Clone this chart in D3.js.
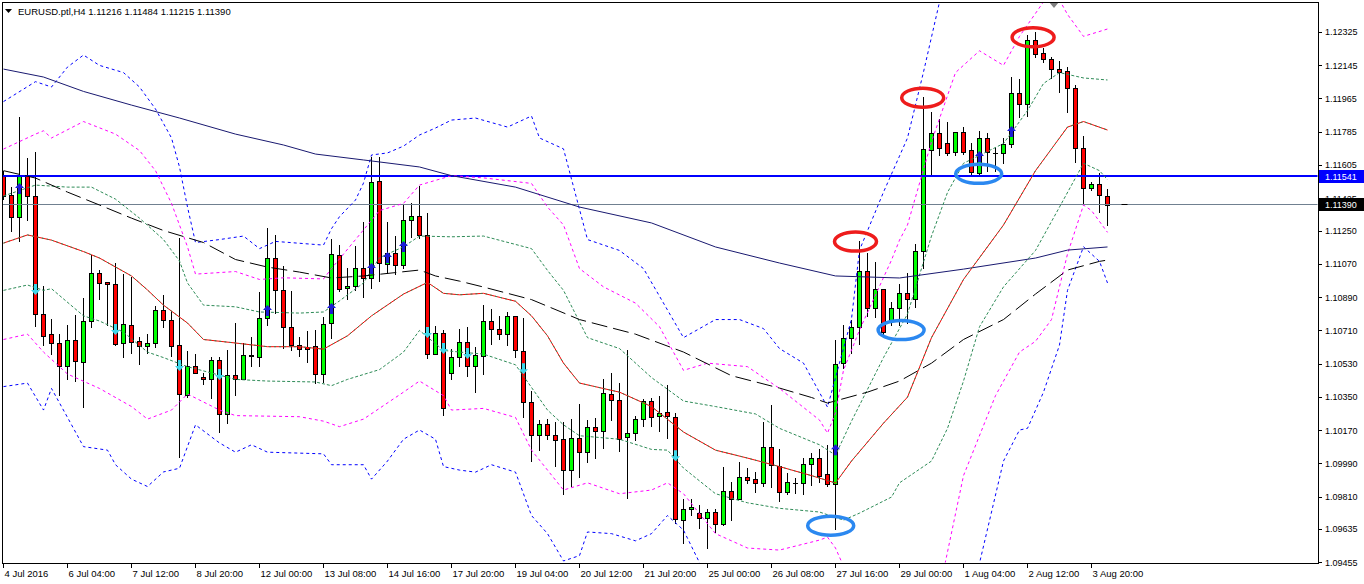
<!DOCTYPE html>
<html>
<head>
<meta charset="utf-8">
<title>EURUSD H4</title>
<script src="https://cdn.jsdelivr.net/npm/d3@7"></script>
<style>
  body { margin: 0; background: #fff; }
  svg text { font-family: "Liberation Sans", Arial, sans-serif; fill: #000; }
</style>
</head>
<body>
<svg id="canvas" width="1364" height="584"></svg>
<script>

// H4 candles, index 0 = first visible bar
var openP = [1.11547,1.11442,1.11321,1.11545,1.11437,1.10798,1.10689,1.10639,1.10518,1.10657,
  1.10536,1.10758,1.11018,1.10971,1.10960,1.10639,1.10736,1.10651,1.10626,1.10639,
  1.10818,1.10764,1.10628,1.10359,1.10518,1.10457,1.10444,1.10549,1.10255,1.10466,
  1.10447,1.10572,1.10566,1.10774,1.11099,1.10926,1.10729,1.10628,1.10617,1.10623,
  1.10471,1.10747,1.11116,1.10937,1.10949,1.11045,1.10991,1.11518,1.11068,1.11130,
  1.11061,1.11305,1.11327,1.11224,1.10583,1.10693,1.10477,1.10563,1.10644,1.10518,
  1.10572,1.10760,1.10715,1.10688,1.10785,1.10596,1.10320,1.10141,1.10202,1.10141,
  1.10119,1.09951,1.10125,1.10052,1.10184,1.10166,1.10365,1.10330,1.10130,1.10155,
  1.10228,1.10327,1.10245,1.10265,1.10242,1.09682,1.09742,1.09718,1.09691,1.09727,
  1.09659,1.09841,1.09794,1.09913,1.09903,1.09881,1.10079,1.09976,1.09832,1.09883,
  1.09881,1.09987,1.10016,1.09930,1.09879,1.10531,1.10669,1.10729,1.11029,1.10829,
  1.10935,1.10765,1.10829,1.10910,1.10877,1.11141,1.11686,1.11776,1.11722,1.11673,
  1.11782,1.11686,1.11560,1.11749,1.11670,1.11668,1.11717,1.11993,1.11933,1.12281,
  1.12209,1.12177,1.12123,1.12114,1.12020,1.11695,1.11482,1.11500,1.11438];
var highP = [1.11572,1.11487,1.11866,1.11641,1.11677,1.10949,1.10771,1.10689,1.10738,1.10792,
  1.10883,1.11117,1.11036,1.10971,1.11072,1.11014,1.11000,1.10675,1.10689,1.10843,
  1.10901,1.10814,1.11208,1.10597,1.10580,1.10477,1.10563,1.10566,1.10603,1.10747,
  1.10639,1.10672,1.10918,1.11263,1.11225,1.11058,1.10922,1.10672,1.10707,1.10713,
  1.10780,1.11204,1.11171,1.11045,1.11166,1.11297,1.11650,1.11650,1.11294,1.11220,
  1.11392,1.11397,1.11491,1.11343,1.10733,1.10711,1.10607,1.10717,1.10726,1.10617,
  1.10846,1.10825,1.10785,1.10809,1.10785,1.10776,1.10382,1.10224,1.10228,1.10211,
  1.10215,1.10229,1.10312,1.10224,1.10233,1.10444,1.10477,1.10422,1.10603,1.10245,
  1.10339,1.10345,1.10354,1.10413,1.10260,1.09794,1.09794,1.09763,1.09742,1.09740,
  1.09971,1.09890,1.09995,1.09965,1.09944,1.10215,1.10303,1.10068,1.09935,1.09911,
  1.10016,1.10043,1.10065,1.10088,1.10657,1.10736,1.10765,1.11195,1.11126,1.11081,
  1.10935,1.10864,1.10960,1.11018,1.11177,1.11971,1.11893,1.11852,1.11839,1.11782,
  1.11812,1.11725,1.11789,1.11776,1.11695,1.11749,1.12079,1.12069,1.12309,1.12326,
  1.12237,1.12188,1.12169,1.12137,1.12038,1.11762,1.11514,1.11560,1.11473];
var lowP = [1.11420,1.11249,1.11195,1.11307,1.10733,1.10630,1.10581,1.10359,1.10444,1.10437,
  1.10292,1.10726,1.10880,1.10738,1.10628,1.10566,1.10588,1.10527,1.10585,1.10621,
  1.10726,1.10572,1.10025,1.10350,1.10477,1.10419,1.10341,1.10160,1.10209,1.10359,
  1.10447,1.10518,1.10518,1.10736,1.10805,1.10614,1.10603,1.10570,1.10538,1.10422,
  1.10431,1.10669,1.10924,1.10877,1.10928,1.10888,1.10937,1.10978,1.11018,1.11014,
  1.11045,1.11216,1.11208,1.10561,1.10580,1.10251,1.10444,1.10516,1.10464,1.10377,
  1.10474,1.10637,1.10662,1.10631,1.10566,1.10242,1.10003,1.10061,1.10121,1.09976,
  1.09821,1.09868,1.09917,1.09995,1.10020,1.10074,1.10225,1.10054,1.09800,1.10115,
  1.10193,1.10193,1.10166,1.10125,1.09668,1.09559,1.09709,1.09637,1.09529,1.09616,
  1.09655,1.09682,1.09794,1.09884,1.09836,1.09868,1.09863,1.09785,1.09823,1.09830,
  1.09821,1.09872,1.09890,1.09868,1.09632,1.10507,1.10588,1.10635,1.10789,1.10783,
  1.10684,1.10738,1.10738,1.10747,1.10837,1.11045,1.11550,1.11659,1.11659,1.11659,
  1.11662,1.11550,1.11556,1.11574,1.11574,1.11614,1.11704,1.11866,1.11870,1.12188,
  1.12164,1.12074,1.12001,1.11893,1.11622,1.11397,1.11469,1.11352,1.11280];
var closeP = [1.11437,1.11321,1.11545,1.11437,1.10798,1.10680,1.10642,1.10518,1.10657,1.10542,
  1.10760,1.11018,1.10967,1.10958,1.10634,1.10742,1.10644,1.10626,1.10639,1.10818,
  1.10764,1.10626,1.10363,1.10518,1.10477,1.10444,1.10549,1.10255,1.10467,1.10444,
  1.10574,1.10574,1.10774,1.11099,1.10926,1.10729,1.10628,1.10608,1.10608,1.10471,
  1.10744,1.11121,1.10933,1.10949,1.11045,1.10991,1.11512,1.11072,1.11130,1.11061,
  1.11305,1.11327,1.11226,1.10583,1.10693,1.10287,1.10563,1.10644,1.10518,1.10574,
  1.10760,1.10715,1.10688,1.10785,1.10601,1.10320,1.10141,1.10202,1.10141,1.10117,
  1.09955,1.10125,1.10052,1.10184,1.10166,1.10370,1.10330,1.10122,1.10155,1.10228,
  1.10327,1.10242,1.10260,1.10245,1.09686,1.09740,1.09754,1.09691,1.09727,1.09662,
  1.09841,1.09794,1.09913,1.09899,1.09881,1.10079,1.09980,1.09832,1.09886,1.09883,
  1.09987,1.10016,1.09922,1.09879,1.10527,1.10669,1.10729,1.11029,1.10829,1.10935,
  1.10702,1.10829,1.10910,1.10877,1.11141,1.11690,1.11776,1.11695,1.11668,1.11782,
  1.11673,1.11568,1.11749,1.11673,1.11670,1.11717,1.11993,1.11933,1.12281,1.12206,
  1.12177,1.12123,1.12110,1.12020,1.11695,1.11478,1.11500,1.11442,1.11390];

// time axis labels, one every 8 bars
var timeLabels = ['4 Jul 2016','6 Jul 04:00','7 Jul 12:00','8 Jul 20:00','12 Jul 00:00','13 Jul 08:00',
  '14 Jul 16:00','17 Jul 20:00','19 Jul 04:00','20 Jul 12:00','21 Jul 20:00','25 Jul 00:00',
  '26 Jul 08:00','27 Jul 16:00','29 Jul 00:00','1 Aug 04:00','2 Aug 12:00','3 Aug 20:00'];
var priceTicks = [1.12325,1.12145,1.11965,1.11785,1.11605,1.11425,1.11250,1.11070,1.10890,
  1.10710,1.10530,1.10350,1.10170,1.09990,1.09810,1.09635,1.09455];

var titleText = 'EURUSD.ptl,H4  1.11216 1.11484 1.11215 1.11390';
var levelPrice = 1.11541;
var lastPrice = 1.11390;

// indicator lines, [bar index, price]
var maSlow = [[0,1.12124],[5,1.12081],[10,1.12003],[16,1.11929],[22,1.11859],[29,1.11772],[35,1.11713],
  [39,1.11664],[45,1.11632],[52,1.11594],[56,1.11547],[64,1.11485],[72,1.11377],[81,1.11291],[89,1.11161],
  [97,1.11074],[104,1.11004],[112,1.10993],[120,1.11041],[129,1.11101],[133,1.11144],[138,1.11161]];
var maMid = [[0,1.11574],[4,1.11534],[8,1.11458],[12,1.11388],[16,1.11317],[20,1.11250],[25,1.11185],
  [29,1.11093],[33,1.11052],[37,1.11025],[41,1.10993],[45,1.11004],[52,1.11036],[54,1.11004],[57,1.10976],
  [60,1.10944],[66,1.10876],[72,1.10768],[79,1.10689],[85,1.10592],[91,1.10464],[97,1.10397],[101,1.10346],
  [103,1.10316],[108,1.10375],[112,1.10435],[116,1.10532],[120,1.10660],[125,1.10768],[129,1.10906],
  [133,1.11036],[137,1.11083],[138,1.11090]];
var maFast = [[0,1.11182],[3,1.11226],[6,1.11198],[10,1.11136],[12,1.11101],[16,1.11004],[18,1.10928],
  [20,1.10846],[23,1.10749],[25,1.10660],[29,1.10641],[33,1.10621],[37,1.10621],[40,1.10608],[43,1.10680],
  [46,1.10788],[50,1.10906],[53,1.10969],[55,1.10910],[57,1.10902],[60,1.10910],[64,1.10867],[66,1.10788],
  [68,1.10680],[70,1.10532],[72,1.10424],[77,1.10375],[81,1.10297],[85,1.10159],[89,1.10061],[93,1.10018],
  [97,1.09972],[101,1.09923],[104,1.09883],[106,1.10002],[110,1.10207],[113,1.10348],[116,1.10670],
  [120,1.10985],[125,1.11280],[129,1.11574],[133,1.11810],[135,1.11840],[138,1.11794]];
var bandUp1 = [[0,1.11437],[4,1.11496],[8,1.11485],[11,1.11485],[14,1.11420],[17,1.11317],[20,1.11201],
  [22,1.11085],[23,1.10966],[25,1.10846],[29,1.10837],[32,1.10809],[37,1.10803],[40,1.10809],[42,1.10869],
  [45,1.10966],[47,1.11103],[50,1.11162],[52,1.11220],[56,1.11216],[60,1.11220],[66,1.11152],[68,1.11034],
  [70,1.10926],[73,1.10670],[77,1.10611],[81,1.10454],[85,1.10327],[89,1.10297],[94,1.10257],[97,1.10179],
  [102,1.10090],[104,1.10034],[106,1.10218],[110,1.10562],[113,1.10798],[116,1.11220],[118,1.11456],
  [120,1.11614],[125,1.11721],[128,1.11899],[130,1.12046],[132,1.12105],[135,1.12076],[138,1.12065]];
var bandLo1 = [[0,1.10926],[3,1.10955],[5,1.10926],[6,1.10935],[10,1.10788],[12,1.10760],[15,1.10700],
  [18,1.10592],[20,1.10562],[23,1.10513],[29,1.10444],[33,1.10435],[39,1.10430],[41,1.10410],[43,1.10444],
  [47,1.10497],[50,1.10592],[52,1.10709],[55,1.10601],[57,1.10592],[60,1.10581],[64,1.10523],[68,1.10278],
  [70,1.10198],[72,1.10139],[77,1.10120],[81,1.10065],[83,1.10061],[85,1.09964],[89,1.09825],[93,1.09776],
  [97,1.09746],[102,1.09726],[105,1.09682],[107,1.09720],[111,1.09807],[112,1.09884],[116,1.10002],
  [118,1.10179],[120,1.10435],[122,1.10729],[125,1.10945],[129,1.11142],[132,1.11377],[135,1.11614],
  [137,1.11574],[138,1.11525]];
var bandUp2 = [[0,1.11691],[4,1.11772],[5,1.11790],[6,1.11751],[10,1.11840],[14,1.11772],[17,1.11683],
  [19,1.11574],[21,1.11397],[23,1.11162],[24,1.11014],[29,1.11028],[32,1.10985],[35,1.10994],[40,1.10988],
  [41,1.11044],[44,1.11201],[47,1.11358],[50,1.11397],[52,1.11496],[56,1.11547],[60,1.11535],[66,1.11505],
  [68,1.11377],[70,1.11280],[72,1.11044],[75,1.10945],[79,1.10857],[82,1.10729],[85,1.10493],[88,1.10532],
  [93,1.10513],[97,1.10395],[102,1.10224],[103,1.10153],[104,1.10262],[105,1.10494],[107,1.10711],
  [111,1.11090],[112,1.11198],[113,1.11280],[116,1.11731],[119,1.12105],[122,1.12223],[125,1.12144],
  [127,1.12301],[130,1.12488],[132,1.12498],[133,1.12420],[135,1.12301],[138,1.12341]];
var bandLo2 = [[0,1.10660],[3,1.10689],[5,1.10592],[8,1.10473],[12,1.10395],[16,1.10297],[18,1.10229],
  [21,1.10278],[23,1.10365],[27,1.10278],[29,1.10248],[37,1.10242],[40,1.10218],[42,1.10188],[45,1.10229],
  [50,1.10375],[52,1.10435],[55,1.10356],[56,1.10278],[60,1.10287],[64,1.10238],[66,1.10061],[70,1.09845],
  [73,1.09884],[77,1.09825],[81,1.09845],[83,1.09884],[85,1.09825],[89,1.09609],[93,1.09531],[97,1.09520],
  [102,1.09574],[103,1.09590],[104,1.09531],[105,1.09433],[106,1.09303],[117,1.09303],[120,1.09923],
  [124,1.10356],[127,1.10592],[129,1.10650],[131,1.10768],[133,1.11123],[135,1.11388],[136,1.11358],
  [138,1.11240]];
var bandUp3 = [[0,1.11948],[4,1.12056],[6,1.12027],[8,1.12135],[10,1.12200],[12,1.12144],[15,1.12105],
  [17,1.12027],[19,1.11908],[21,1.11751],[22,1.11594],[23,1.11377],[24,1.11185],[27,1.11201],[30,1.11220],
  [32,1.11152],[34,1.11191],[40,1.11171],[41,1.11260],[42,1.11325],[44,1.11415],[45,1.11507],[46,1.11659],
  [48,1.11670],[50,1.11707],[52,1.11767],[54,1.11805],[56,1.11848],[59,1.11859],[63,1.11810],[66,1.11870],
  [67,1.11751],[70,1.11692],[73,1.11201],[77,1.11142],[80,1.11044],[85,1.10670],[89,1.10768],[92,1.10768],
  [95,1.10719],[97,1.10611],[100,1.10532],[103,1.10294],[106,1.10771],[107,1.11144],[110,1.11458],
  [112,1.11653],[113,1.11751],[115,1.12108],[117,1.12487],[118,1.12715],[138,1.12660]];
var bandLo3 = [[0,1.10405],[3,1.10424],[5,1.10278],[6,1.10395],[8,1.10238],[10,1.10080],[13,1.10061],
  [14,1.09982],[16,1.09904],[18,1.09864],[20,1.09943],[22,1.09963],[24,1.10198],[27,1.10100],[29,1.10050],
  [31,1.10090],[33,1.10050],[40,1.10041],[41,1.09982],[45,1.09982],[46,1.09904],[48,1.10002],[50,1.10120],
  [52,1.10170],[54,1.10120],[55,1.09972],[57,1.09953],[59,1.09942],[61,1.09982],[64,1.09942],[66,1.09707],
  [68,1.09609],[70,1.09461],[72,1.09490],[73,1.09618],[76,1.09609],[79,1.09570],[81,1.09609],[83,1.09707],
  [85,1.09628],[87,1.09452],[90,1.09249],[115,1.09032],[120,1.09249],[122,1.09449],[125,1.10002],
  [127,1.10170],[128,1.10179],[130,1.10375],[132,1.10630],[133,1.10926],[135,1.11162],[137,1.11083],
  [138,1.10966]];

// signal arrows
var upIdx = [2,33,41,46,48,50,104,122,126];
var upPrice = [1.11475,1.10814,1.10825,1.11041,1.11101,1.11161,1.10061,1.11648,1.11783];
var downIdx = [4,14,22,27,53,55,58,65,84];
var downPrice = [1.10933,1.10717,1.10522,1.10473,1.10700,1.10614,1.10587,1.10505,1.10034];

// hand drawn ellipses on swing highs / lows
var highMarkIdx = [106.5,114.9,128.7];
var highMarkPrice = [1.11190,1.11969,1.12296];
var lowMarkIdx = [103.4,112.2,121.9];
var lowMarkPrice = [1.09652,1.10711,1.11557];


var canvas = d3.select('#canvas');
var plot = { left: 2, top: 2, right: 1318, bottom: 563 };

var x = d3.scaleLinear().domain([0, 138]).range([3.5, 1107.5]);
var y = d3.scaleLinear().domain([1.09450, 1.12498]).range([563, 0]);

canvas.append('rect').attr('width', 1364).attr('height', 584).attr('fill', '#fff');

canvas.append('defs').append('clipPath').attr('id', 'plot')
  .append('rect')
  .attr('x', plot.left + 0.5).attr('y', plot.top + 0.5)
  .attr('width', plot.right - plot.left - 1).attr('height', plot.bottom - plot.top - 1);

var chart = canvas.append('g').attr('clip-path', 'url(#plot)');

// candles
var bars = d3.range(openP.length).map(function (i) {
  return { i: i, o: openP[i], h: highP[i], l: lowP[i], c: closeP[i] };
});

chart.append('g').selectAll('line')
  .data(bars)
  .enter().append('line')
  .attr('x1', function (d) { return x(d.i); })
  .attr('x2', function (d) { return x(d.i); })
  .attr('y1', function (d) { return Math.round(y(d.h)); })
  .attr('y2', function (d) { return Math.round(y(d.l)) + 1; })
  .attr('stroke', '#000')
  .attr('stroke-width', 1);

var bodies = chart.append('g').selectAll('g')
  .data(bars)
  .enter().append('g');

bodies.each(function (d) {
  var g = d3.select(this);
  var t = Math.round(y(Math.max(d.o, d.c)));
  var b = Math.round(y(Math.min(d.o, d.c)));
  if (b - t < 1) {
    g.append('line')
      .attr('x1', x(d.i) - 2.5).attr('x2', x(d.i) + 2.5)
      .attr('y1', t + 0.5).attr('y2', t + 0.5)
      .attr('stroke', '#000');
  } else {
    g.append('rect')
      .attr('x', x(d.i) - 2)
      .attr('y', t + 0.5)
      .attr('width', 4)
      .attr('height', b - t)
      .attr('fill', d.c >= d.o ? '#00ff00' : '#ff0000')
      .attr('stroke', '#000')
      .attr('stroke-width', 1);
  }
});

// horizontal levels
chart.append('line')
  .attr('x1', plot.left).attr('x2', plot.right)
  .attr('y1', Math.floor(y(lastPrice)) + 0.5).attr('y2', Math.floor(y(lastPrice)) + 0.5)
  .attr('stroke', '#708090');
chart.append('line')
  .attr('x1', x(138) + 14).attr('x2', x(138) + 20)
  .attr('y1', Math.floor(y(lastPrice)) + 0.5).attr('y2', Math.floor(y(lastPrice)) + 0.5)
  .attr('stroke', '#000');
chart.append('line')
  .attr('x1', plot.left).attr('x2', plot.right)
  .attr('y1', Math.floor(y(levelPrice))).attr('y2', Math.floor(y(levelPrice)))
  .attr('stroke', '#0000ff')
  .attr('stroke-width', 2);

// indicators
var line = d3.line()
  .x(function (d) { return x(d[0]); })
  .y(function (d) { return y(d[1]); });

function drawLine(data, color, dash, width) {
  chart.append('path')
    .datum(data)
    .attr('d', line)
    .attr('fill', 'none')
    .attr('stroke', color)
    .attr('stroke-width', width || 1)
    .attr('stroke-dasharray', dash);
}

drawLine(bandUp3, '#0000ff', '3,3');
drawLine(bandLo3, '#0000ff', '3,3');
drawLine(bandUp2, '#ff00ff', '3,3');
drawLine(bandLo2, '#ff00ff', '3,3');
drawLine(bandUp1, '#2e8b57', '3,2');
drawLine(bandLo1, '#2e8b57', '3,2');
drawLine(maSlow, '#191970', null);
drawLine(maMid, '#000000', '16,6');
drawLine(maFast, '#ff0000', null);
drawLine(maFast, '#2e8b57', '2,3');

// arrows
function arrowPath(cx, cy, dir) {
  var s = dir; // -1 up, 1 down
  return 'M' + cx + ',' + (cy + 6 * s) +
    'L' + (cx + 4.5) + ',' + (cy + 1 * s) +
    'L' + (cx + 1.5) + ',' + (cy + 1 * s) +
    'L' + (cx + 1.5) + ',' + (cy - 5 * s) +
    'L' + (cx - 1.5) + ',' + (cy - 5 * s) +
    'L' + (cx - 1.5) + ',' + (cy + 1 * s) +
    'L' + (cx - 4.5) + ',' + (cy + 1 * s) + 'Z';
}

chart.append('g').selectAll('path')
  .data(upIdx)
  .enter().append('path')
  .attr('d', function (d, i) { return arrowPath(x(d), y(upPrice[i]), -1); })
  .attr('fill', '#1c1cd6');

chart.append('g').selectAll('path')
  .data(downIdx)
  .enter().append('path')
  .attr('d', function (d, i) { return arrowPath(x(d), y(downPrice[i]), 1); })
  .attr('fill', '#3fd8ea');

// ellipses
chart.append('g').selectAll('ellipse')
  .data(highMarkIdx)
  .enter().append('ellipse')
  .attr('cx', function (d) { return x(d); })
  .attr('cy', function (d, i) { return y(highMarkPrice[i]); })
  .attr('rx', 21).attr('ry', 9.5)
  .attr('fill', 'none')
  .attr('stroke', '#ee1c1c')
  .attr('stroke-width', 3.5);

chart.append('g').selectAll('ellipse')
  .data(lowMarkIdx)
  .enter().append('ellipse')
  .attr('cx', function (d) { return x(d); })
  .attr('cy', function (d, i) { return y(lowMarkPrice[i]); })
  .attr('rx', 23).attr('ry', 9.5)
  .attr('fill', 'none')
  .attr('stroke', '#2b88f0')
  .attr('stroke-width', 3.5);

// chart-shift marker
canvas.append('path')
  .attr('d', 'M1049,2L1059,2L1054,8Z')
  .attr('fill', '#808080');

// frame
canvas.append('rect')
  .attr('x', plot.left + 0.5).attr('y', plot.top + 0.5)
  .attr('width', plot.right - plot.left).attr('height', plot.bottom - plot.top)
  .attr('fill', 'none')
  .attr('stroke', '#000');

// price axis
var yAxis = canvas.append('g');
yAxis.selectAll('line')
  .data(priceTicks)
  .enter().append('line')
  .attr('x1', plot.right + 0.5).attr('x2', plot.right + 4)
  .attr('y1', function (d) { return Math.round(y(d)) + 0.5; })
  .attr('y2', function (d) { return Math.round(y(d)) + 0.5; })
  .attr('stroke', '#000');
yAxis.selectAll('text')
  .data(priceTicks)
  .enter().append('text')
  .attr('x', plot.right + 7)
  .attr('y', function (d) { return y(d) + 3.5; })
  .attr('font-size', '9px')
  .text(function (d) { return d.toFixed(5); });

function priceBox(p, color) {
  var cy = Math.floor(y(p));
  canvas.append('rect')
    .attr('x', plot.right + 1).attr('y', cy - 6)
    .attr('width', 45).attr('height', 13)
    .attr('fill', color);
  canvas.append('text')
    .attr('x', plot.right + 7).attr('y', cy + 4)
    .attr('font-size', '9px')
    .style('fill', '#fff')
    .text(p.toFixed(5));
}
priceBox(levelPrice, '#0000ff');
priceBox(lastPrice, '#000000');

// time axis
var xAxis = canvas.append('g');
xAxis.selectAll('line')
  .data(timeLabels)
  .enter().append('line')
  .attr('x1', function (d, i) { return x(i * 8); })
  .attr('x2', function (d, i) { return x(i * 8); })
  .attr('y1', plot.bottom).attr('y2', plot.bottom + 5)
  .attr('stroke', '#000');
xAxis.selectAll('text')
  .data(timeLabels)
  .enter().append('text')
  .attr('x', function (d, i) { return x(i * 8) + 1; })
  .attr('y', 577)
  .attr('font-size', '9.5px')
  .text(function (d) { return d; });

// title
canvas.append('path').attr('d', 'M5,9L12,9L8.5,13Z').attr('fill', '#000');
canvas.append('text')
  .attr('x', 18).attr('y', 14.5)
  .attr('font-size', '9.5px')
  .text(titleText);

</script>
</body>
</html>
